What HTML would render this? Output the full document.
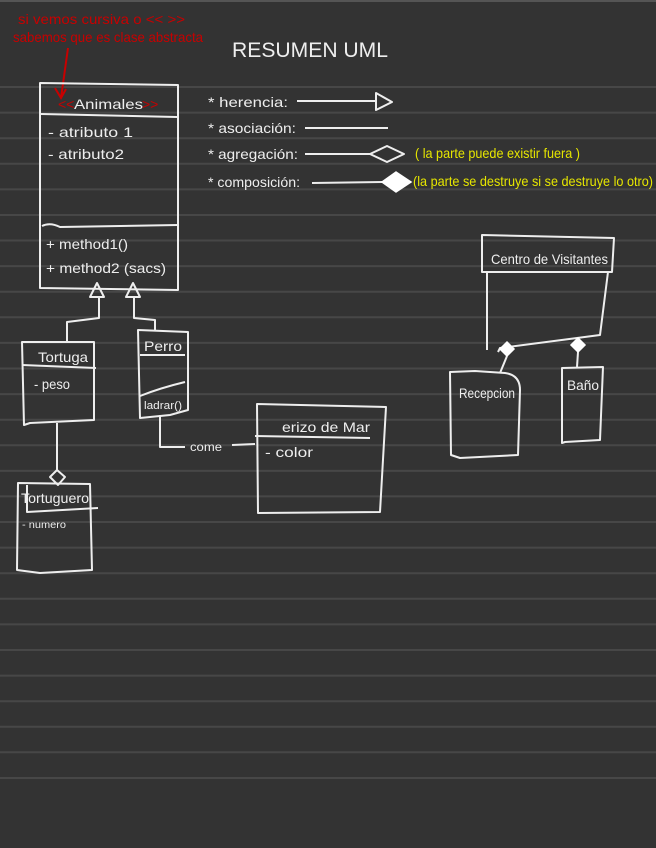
<!DOCTYPE html>
<html><head><meta charset="utf-8"><style>
html,body{margin:0;padding:0;background:#333;}
svg{display:block}
text{font-family:"Liberation Sans Narrow","Liberation Sans",sans-serif;}
</style></head><body>
<svg width="656" height="848" viewBox="0 0 656 848" xmlns="http://www.w3.org/2000/svg">
<rect width="656" height="848" fill="#333"/>
<rect x="0" y="0" width="656" height="2" fill="#555"/>
<g stroke="#474747" stroke-width="2">
<line x1="0" y1="87" x2="656" y2="87"/><line x1="0" y1="112.6" x2="656" y2="112.6"/><line x1="0" y1="138.2" x2="656" y2="138.2"/><line x1="0" y1="163.8" x2="656" y2="163.8"/><line x1="0" y1="189.4" x2="656" y2="189.4"/><line x1="0" y1="215" x2="656" y2="215"/><line x1="0" y1="240.5" x2="656" y2="240.5"/><line x1="0" y1="266.1" x2="656" y2="266.1"/><line x1="0" y1="291.7" x2="656" y2="291.7"/><line x1="0" y1="317.3" x2="656" y2="317.3"/><line x1="0" y1="342.9" x2="656" y2="342.9"/><line x1="0" y1="368.5" x2="656" y2="368.5"/><line x1="0" y1="394.1" x2="656" y2="394.1"/><line x1="0" y1="419.7" x2="656" y2="419.7"/><line x1="0" y1="445.3" x2="656" y2="445.3"/><line x1="0" y1="470.9" x2="656" y2="470.9"/><line x1="0" y1="496.4" x2="656" y2="496.4"/><line x1="0" y1="522" x2="656" y2="522"/><line x1="0" y1="547.6" x2="656" y2="547.6"/><line x1="0" y1="573.2" x2="656" y2="573.2"/><line x1="0" y1="598.8" x2="656" y2="598.8"/><line x1="0" y1="624.4" x2="656" y2="624.4"/><line x1="0" y1="650" x2="656" y2="650"/><line x1="0" y1="675.6" x2="656" y2="675.6"/><line x1="0" y1="701.2" x2="656" y2="701.2"/><line x1="0" y1="726.8" x2="656" y2="726.8"/><line x1="0" y1="752.3" x2="656" y2="752.3"/><line x1="0" y1="778" x2="656" y2="778"/>
</g>

<!-- red note -->
<g fill="#c80000" font-size="14">
<text x="18" y="24" textLength="167" lengthAdjust="spacingAndGlyphs">si vemos cursiva o &lt;&lt; &gt;&gt;</text>
<text x="13" y="42" textLength="190" lengthAdjust="spacingAndGlyphs">sabemos que es clase abstracta</text>
</g>
<path d="M68 48 L61 98 M55 88 L61 98 L66 89" stroke="#c80000" stroke-width="2" fill="none"/>

<text x="232" y="57" fill="#eee" font-size="21" textLength="156" lengthAdjust="spacingAndGlyphs">RESUMEN  UML</text>

<g stroke="#eee" stroke-width="2" fill="none" stroke-linejoin="round">
<!-- Animales -->
<path d="M40 83 L178 85 L178 290 L40 288 Z"/>
<path d="M41 114 L177 117"/>
<path d="M42 226 Q50 222 60 227 L178 225"/>
<!-- inheritance -->
<path d="M97 283 L90 297 L104 297 Z"/>
<path d="M133 283 L126 297 L140 297 Z"/>
<path d="M99 297 L99 318 L67 322 L67 343"/>
<path d="M134 297 L134 318 L155 320 L155 330"/>
<!-- Tortuga -->
<path d="M22 342 L94 342 L94 420 L30 423 L24 425 Z"/>
<path d="M22 365 L96 368"/>
<path d="M57 423 L57 470"/>
<path d="M57 470 L65 477 L58 485 L50 477 Z"/>
<!-- Tortuguero -->
<path d="M18 483 L90 484 L92 570 L40 573 L17 570 Z"/>
<path d="M27 485 L27 512 L98 508"/>
<!-- Perro -->
<path d="M138 330 L188 332 L188 410 L170 415 L140 418 Z"/>
<path d="M140 355 L185 355"/>
<path d="M140 396 Q160 388 185 382"/>
<!-- association come -->
<path d="M160 415 L160 447 L185 447"/>
<path d="M232 445 L255 444"/>
<!-- Erizo -->
<path d="M257 404 L386 407 L380 512 L258 513 Z"/>
<path d="M255 436 L370 438"/>
<!-- legend lines -->
<path d="M297 101 L376 101"/>
<path d="M376 93 L392 102 L376 110 Z"/>
<path d="M305 128 L388 128"/>
<path d="M305 154 L370 154"/>
<path d="M370 154 L387 146 L404 154 L387 162 Z"/>
<path d="M312 183 L382 182"/>
<!-- Centro de visitantes -->
<path d="M482 235 L614 238 L612 272 L482 272 Z"/>
<path d="M487 272 L487 350 M608 272 L600 335 L500 348 L498 352"/>
<!-- Recepcion / Baño -->
<path d="M507 356 L500 373"/>
<path d="M450 372 L475 371 L505 373 Q520 375 520 390 L518 455 L460 458 L451 455 Z"/>
<path d="M578 352 L577 367"/>
<path d="M562 368 L603 367 L600 440 L565 442 L562 443 Z"/>
</g>
<g fill="#fff" stroke="#fff" stroke-width="1.5">
<path d="M382 182 L396 172 L411 182 L396 192 Z"/>
<path d="M507 342 L514 349 L507 356 L500 349 Z"/>
<path d="M578 338 L585 345 L578 352 L571 345 Z"/>
</g>

<g fill="#eee" font-size="14">
<text x="74" y="109" textLength="69" lengthAdjust="spacingAndGlyphs">Animales</text>
<text x="48" y="137" textLength="85" lengthAdjust="spacingAndGlyphs">- atributo 1</text>
<text x="48" y="159" textLength="76" lengthAdjust="spacingAndGlyphs">- atributo2</text>
<text x="46" y="249" textLength="82" lengthAdjust="spacingAndGlyphs">+ method1()</text>
<text x="46" y="273" textLength="120" lengthAdjust="spacingAndGlyphs">+ method2 (sacs)</text>
<text x="208" y="107" textLength="80" lengthAdjust="spacingAndGlyphs">* herencia:</text>
<text x="208" y="133" textLength="88" lengthAdjust="spacingAndGlyphs">* asociación:</text>
<text x="208" y="159" textLength="90" lengthAdjust="spacingAndGlyphs">* agregación:</text>
<text x="208" y="187" textLength="92" lengthAdjust="spacingAndGlyphs">* composición:</text>
<text x="38" y="362" textLength="50" lengthAdjust="spacingAndGlyphs">Tortuga</text>
<text x="34" y="389" textLength="36" lengthAdjust="spacingAndGlyphs">- peso</text>
<text x="144" y="351" textLength="38" lengthAdjust="spacingAndGlyphs">Perro</text>
<text x="144" y="409" font-size="11" textLength="38" lengthAdjust="spacingAndGlyphs">ladrar()</text>
<text x="21" y="503" textLength="68" lengthAdjust="spacingAndGlyphs">Tortuguero</text>
<text x="22" y="528" font-size="10" textLength="44" lengthAdjust="spacingAndGlyphs">- numero</text>
<text x="190" y="451" font-size="12" textLength="32" lengthAdjust="spacingAndGlyphs">come</text>
<text x="282" y="432" textLength="88" lengthAdjust="spacingAndGlyphs">erizo de Mar</text>
<text x="265" y="457" textLength="48" lengthAdjust="spacingAndGlyphs">- color</text>
<text x="491" y="264" textLength="117" lengthAdjust="spacingAndGlyphs">Centro de Visitantes</text>
<text x="459" y="398" textLength="56" lengthAdjust="spacingAndGlyphs">Recepcion</text>
<text x="567" y="390" textLength="32" lengthAdjust="spacingAndGlyphs">Baño</text>
</g>
<g fill="#c80000" font-size="14">
<text x="58" y="109">&lt;&lt;</text>
<text x="142" y="109">&gt;&gt;</text>
</g>
<g fill="#e6e600" font-size="14">
<text x="415" y="158" textLength="165" lengthAdjust="spacingAndGlyphs">( la parte puede existir fuera )</text>
<text x="413" y="186" textLength="240" lengthAdjust="spacingAndGlyphs">(la parte se destruye si se destruye lo otro)</text>
</g>
</svg>
</body></html>
